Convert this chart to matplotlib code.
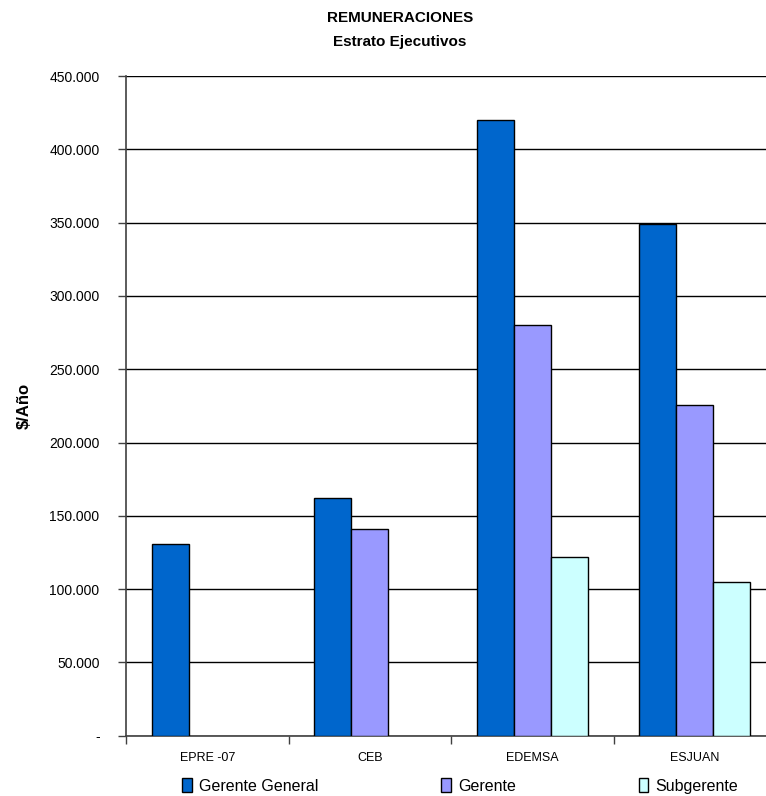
import numpy as np
import matplotlib.pyplot as plt
from matplotlib.ticker import FuncFormatter

plt.rcParams['font.family'] = ['Liberation Sans', 'DejaVu Sans']

empresas = ['EPRE -07', 'CEB', 'EDEMSA', 'ESJUAN']
gerente_general = [131000, 162000, 420000, 349000]
gerente = [np.nan, 141000, 280000, 225500]
subgerente = [np.nan, np.nan, 122000, 105000]
series = ['Gerente General', 'Gerente', 'Subgerente']
colores = ['#0066CC', '#9999FF', '#CCFFFF']

fig = plt.figure(figsize=(7.66, 7.96), dpi=100)
# el area del grafico se sale por la derecha, como en el original
ax = fig.add_axes([126 / 766, 1 - 735.7 / 796, 650 / 766, (735.7 - 76) / 796])

x = np.arange(len(empresas)) + 0.5
w = 0.227
for k, (vals, nombre, col) in enumerate(zip([gerente_general, gerente, subgerente], series, colores)):
    ax.bar(x + (k - 1) * w, vals, w, color=col, edgecolor='black', linewidth=1,
           label=nombre, zorder=3)

ax.set_xlim(0, 4)
ax.set_ylim(0, 450000)
ax.set_yticks(np.arange(0, 450001, 50000))
ax.yaxis.set_major_formatter(FuncFormatter(
    lambda v, p: '-' if v == 0 else f'{int(v):,}'.replace(',', '.')))
ax.grid(axis='y', color='black', linewidth=1, zorder=0)

ax.set_xticks(np.arange(0, 5))
ax.set_xticklabels([])
ax.set_xticks(x, minor=True)
ax.set_xticklabels(empresas, minor=True, fontsize=9)
ax.tick_params(axis='x', which='minor', length=0, pad=12)
ax.tick_params(axis='x', which='major', length=6, width=1, color='#404040')
ax.tick_params(axis='y', length=6, width=1, color='#404040', labelsize=10, pad=13)

for s in ['top', 'right']:
    ax.spines[s].set_visible(False)
ax.spines['left'].set_color('#404040')
ax.spines['bottom'].set_color('#404040')
ax.spines['left'].set_linewidth(1.2)
ax.spines['bottom'].set_linewidth(1.2)

ax.set_ylabel('$/Año', fontsize=12, fontweight='bold')
ax.yaxis.set_label_coords(-94 / 650, 0.5)

fig.text(400 / 766, 1 - 18 / 796, 'REMUNERACIONES', ha='center', va='center',
         fontsize=11, fontweight='bold')
fig.text(400 / 766, 1 - 42 / 796, 'Estrato Ejecutivos', ha='center', va='center',
         fontsize=11, fontweight='bold')

fig.legend(loc='center left', bbox_to_anchor=(182 / 766, 1 - 786 / 796), ncol=3,
           frameon=False, fontsize=11.5, handlelength=0.6, handleheight=0.9,
           handletextpad=0.45, columnspacing=7.7, borderaxespad=0, borderpad=0)

fig.savefig('out.png', dpi=100)
